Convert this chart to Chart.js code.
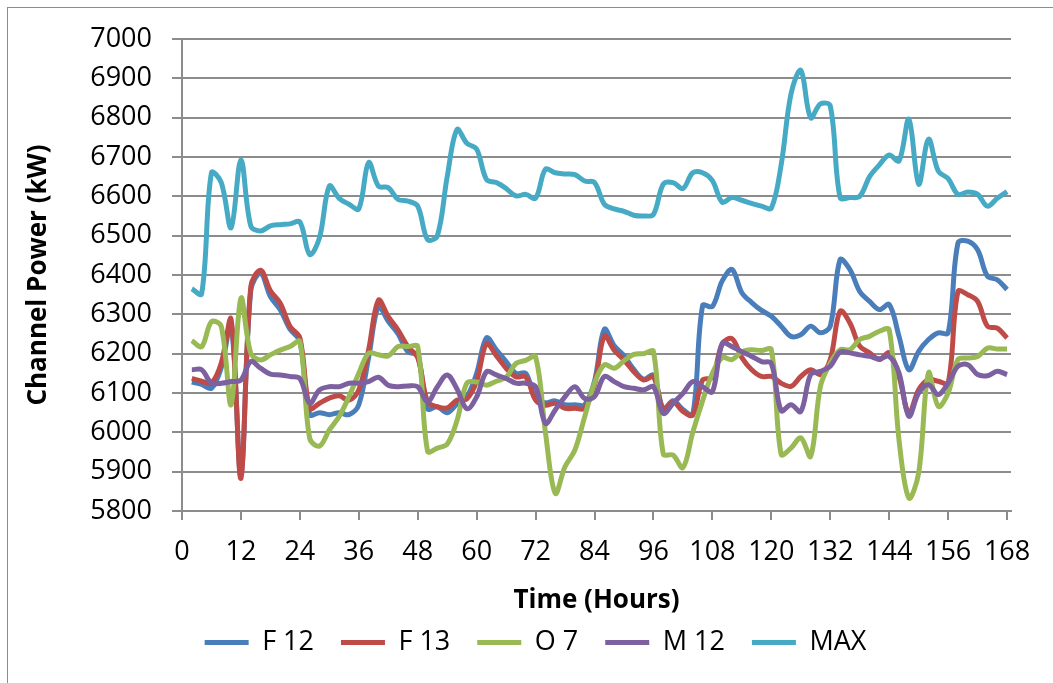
<!DOCTYPE html>
<html>
<head>
<meta charset="utf-8">
<script src="https://cdn.jsdelivr.net/npm/chart.js@4.4.1/dist/chart.umd.min.js"></script>
<style>
  html, body { margin: 0; padding: 0; background: #fff; }
  #wrap { position: relative; width: 1053px; height: 683px; overflow: hidden; }
  #frame { position: absolute; left: 7px; top: 7px; width: 1100px; height: 720px; border: 1px solid #8c8c8c; }
  canvas { position: absolute; left: 0; top: 0; }
</style>
</head>
<body>
<div id="wrap">
  <div id="frame"></div>
  <canvas id="powerChart" width="1053" height="683"></canvas>
</div>
<script>
// hours of the week (every 2 h)
const hours = [2, 4, 6, 8, 10, 12, 14, 16, 18, 20, 22, 24, 26, 28, 30, 32, 34, 36, 38, 40, 42, 44, 46, 48,
  50, 52, 54, 56, 58, 60, 62, 64, 66, 68, 70, 72, 74, 76, 78, 80, 82, 84, 86, 88, 90, 92, 94, 96,
  98, 100, 102, 104, 106, 108, 110, 112, 114, 116, 118, 120, 122, 124, 126, 128, 130, 132, 134, 136, 138, 140, 142, 144,
  146, 148, 150, 152, 154, 156, 158, 160, 162, 164, 166, 168];

const f12 = [6128, 6122, 6112, 6165, 6275, 5890, 6360, 6405, 6345, 6312, 6262, 6232, 6045, 6050, 6045, 6050, 6045, 6070, 6190, 6320, 6282, 6250, 6205, 6195,
  6060, 6065, 6050, 6072, 6090, 6150, 6240, 6210, 6180, 6150, 6150, 6085, 6075, 6080, 6070, 6070, 6070, 6130, 6262, 6220, 6195, 6160, 6135, 6145,
  6060, 6080, 6058, 6045, 6322, 6320, 6385, 6414, 6355, 6330, 6310, 6295, 6270, 6244, 6248, 6270, 6253, 6270, 6439, 6414, 6358, 6333, 6312, 6325,
  6244, 6159, 6206, 6236, 6253, 6253, 6481, 6486, 6464, 6397, 6388, 6363];

const f13 = [6137, 6130, 6125, 6176, 6287, 5883, 6370, 6412, 6360, 6328, 6269, 6240, 6061, 6074, 6087, 6093, 6082, 6108, 6210, 6336, 6294, 6260, 6218, 6190,
  6078, 6065, 6062, 6082, 6085, 6130, 6225, 6195, 6163, 6141, 6141, 6082, 6069, 6074, 6061, 6061, 6061, 6120, 6245, 6209, 6184, 6154, 6133, 6141,
  6057, 6078, 6053, 6044, 6133, 6140, 6225, 6238, 6190, 6159, 6142, 6142, 6125, 6117, 6142, 6159, 6147, 6185, 6308, 6278, 6219, 6202, 6185, 6202,
  6142, 6049, 6108, 6134, 6130, 6125, 6358, 6350, 6333, 6270, 6265, 6240];

const o7 = [6233, 6218, 6281, 6269, 6070, 6341, 6201, 6184, 6197, 6209, 6218, 6231, 5985, 5965, 6006, 6040, 6091, 6150, 6201, 6197, 6194, 6218, 6218, 6218,
  5952, 5960, 5970, 6030, 6125, 6128, 6120, 6130, 6140, 6175, 6183, 6192, 6000, 5845, 5913, 5955, 6040, 6125, 6172, 6163, 6182, 6198, 6200, 6205,
  5945, 5942, 5910, 6000, 6080, 6150, 6190, 6185, 6205, 6210, 6208, 6210, 5944, 5960, 5986, 5939, 6117, 6176, 6210, 6210, 6236, 6244, 6257, 6261,
  5980, 5833, 5897, 6151, 6066, 6100, 6185, 6189, 6193, 6214, 6212, 6212];

const m12 = [6159, 6159, 6125, 6125, 6129, 6133, 6180, 6163, 6148, 6146, 6142, 6137, 6074, 6108, 6116, 6116, 6125, 6125, 6129, 6140, 6120, 6116, 6118, 6116,
  6078, 6116, 6146, 6110, 6060, 6090, 6154, 6146, 6137, 6125, 6125, 6116, 6023, 6057, 6091, 6116, 6086, 6091, 6142, 6129, 6116, 6112, 6108, 6116,
  6048, 6074, 6099, 6129, 6116, 6103, 6226, 6218, 6205, 6193, 6180, 6175, 6055, 6070, 6053, 6147, 6155, 6168, 6204, 6202, 6197, 6193, 6187, 6193,
  6151, 6041, 6100, 6121, 6096, 6125, 6168, 6172, 6147, 6144, 6155, 6147];

const maxPower = [6365, 6352, 6660, 6635, 6520, 6693, 6525, 6512, 6525, 6528, 6530, 6535, 6452, 6495, 6626, 6595, 6580, 6568, 6686, 6626, 6622, 6592, 6588, 6575,
  6490, 6500, 6650, 6770, 6735, 6720, 6643, 6635, 6620, 6601, 6605, 6595, 6669, 6660, 6657, 6655, 6639, 6635, 6580, 6568, 6562, 6552, 6550, 6554,
  6631, 6635, 6620, 6660, 6660, 6640, 6585, 6597, 6590, 6582, 6575, 6570, 6680, 6860, 6920, 6800, 6835, 6830, 6597, 6597, 6600, 6650, 6680, 6705,
  6690, 6796, 6631, 6745, 6664, 6645, 6605, 6611, 6605, 6575, 6595, 6612];

const seriesNames = ["F 12", "F 13", "O 7", "M 12", "MAX"];
const seriesColors = ["#4A7EBB", "#BE4B48", "#98B954", "#7D60A0", "#46AAC5"];

document.addEventListener("DOMContentLoaded", function () {
  const gridColor = "#8c8c8c";
  const tickFont = { family: "Open Sans", size: 27 };
  const titleFont = { family: "Open Sans", size: 26, weight: "bold" };

  // one dataset per series, later ones drawn on top (like Excel)
  const datasets = [f12, f13, o7, m12, maxPower].map((values, i) => ({
    label: seriesNames[i],
    data: values.map((v, j) => ({ x: hours[j], y: v })),
    borderColor: seriesColors[i],
    backgroundColor: seriesColors[i],
    borderWidth: 5,
    pointRadius: 0,
    tension: 0.35,
    fill: false,
    order: 5 - i,
  }));

  const ctx = document.getElementById("powerChart").getContext("2d");
  window.powerChart = new Chart(ctx, {
    type: "line",
    data: { datasets: datasets },
    options: {
      responsive: false,
      animation: false,
      // left padding is wide so the legend sits centred like the original
      layout: { padding: { top: 39, left: 60, right: 42, bottom: 17 } },
      plugins: {
        tooltip: { enabled: false },
        legend: {
          position: "bottom",
          labels: {
            boxWidth: 44,
            boxHeight: 5,
            padding: 27,
            color: "#000",
            font: { family: "Open Sans", size: 27 },
            sort: (a, b) => a.datasetIndex - b.datasetIndex,
            generateLabels: (chart) =>
              Chart.defaults.plugins.legend.labels.generateLabels(chart).map((l) => ({
                ...l,
                lineWidth: 0,
                fillStyle: l.strokeStyle,
              })),
          },
        },
      },
      scales: {
        x: {
          type: "linear",
          min: 0,
          max: 168.8,
          ticks: {
            stepSize: 12,
            includeBounds: false,
            autoSkip: false,
            maxRotation: 0,
            padding: 16,
            color: "#000",
            font: tickFont,
            callback: (v) => String(v),
          },
          grid: { drawOnChartArea: false, tickLength: 9, color: gridColor, lineWidth: 2 },
          border: { color: gridColor, width: 2 },
          title: { display: true, text: "Time (Hours)", color: "#000", font: titleFont, padding: { top: 0, bottom: -14 } },
          afterFit: (scale) => { scale.height = 91; },
        },
        y: {
          min: 5800,
          max: 7000,
          ticks: { stepSize: 100, padding: 20, color: "#000", font: tickFont, callback: (v) => String(v) },
          grid: { tickLength: 10, color: gridColor, lineWidth: 2 },
          border: { color: gridColor, width: 2 },
          title: { display: true, text: "Channel Power (kW)", color: "#000", font: titleFont, padding: { top: -37, bottom: 0 } },
          afterFit: (scale) => { scale.width = 122; },
        },
      },
    },
  });
});
</script>
</body>
</html>
